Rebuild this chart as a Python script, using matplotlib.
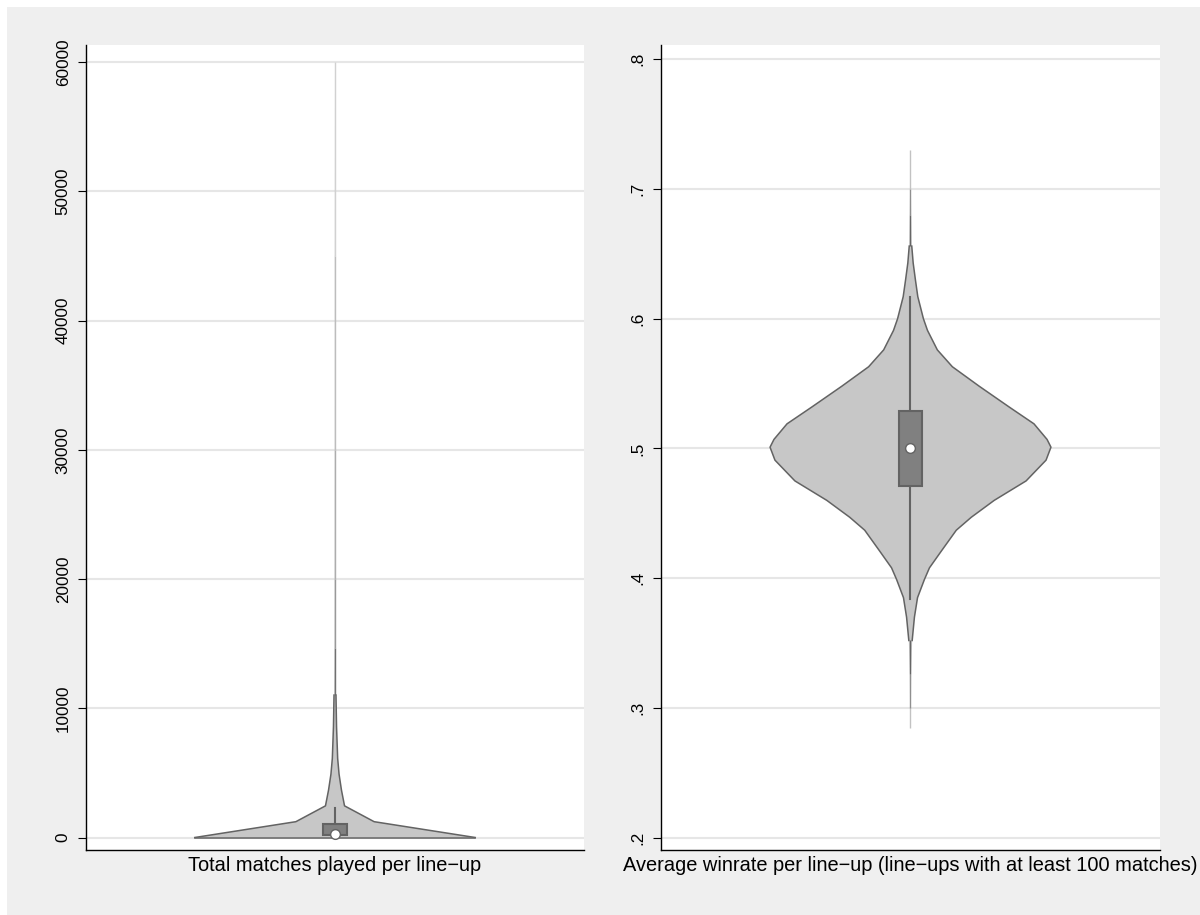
import matplotlib
matplotlib.use('Agg')
import matplotlib.pyplot as plt
from matplotlib.patches import Rectangle
from matplotlib.collections import LineCollection

plt.rcParams['font.family'] = ['Liberation Sans', 'DejaVu Sans']

# left panel: total matches per line-up (density outline, relative to max)
matches_y = [0, 1224, 2449, 3673, 4898, 6122, 8571, 11020, 14694, 20000, 30000, 45000, 60000]
matches_dens = [1.0, 0.279, 0.068, 0.046, 0.029, 0.019, 0.011, 0.007, 0.004, 0.003, 0.002, 0.0015, 0.0]
matches_box = {'lo': 100, 'q1': 190, 'med': 300, 'q3': 1020, 'hi': 2260}
matches_ticks = [0, 10000, 20000, 30000, 40000, 50000, 60000]
matches_ticklabels = ['0', '10000', '20000', '30000', '40000', '50000', '60000']
matches_label = 'Total matches played per line\u2212up'

# right panel: average winrate per line-up
winrate_y = [0.2846, 0.300, 0.326, 0.352, 0.370, 0.385, 0.399, 0.408, 0.421, 0.437, 0.447,
             0.460, 0.475, 0.491, 0.501, 0.507, 0.519, 0.532, 0.548, 0.563, 0.576, 0.591,
             0.600, 0.617, 0.630, 0.643, 0.656, 0.680, 0.700, 0.730]
winrate_dens = [0.0, 0.003, 0.005, 0.012, 0.028, 0.050, 0.099, 0.135, 0.220, 0.326, 0.433,
                0.596, 0.823, 0.965, 1.0, 0.972, 0.879, 0.702, 0.489, 0.298, 0.191, 0.121,
                0.092, 0.052, 0.035, 0.019, 0.009, 0.005, 0.003, 0.0]
winrate_box = {'lo': 0.384, 'q1': 0.4714, 'med': 0.500, 'q3': 0.529, 'hi': 0.617}
winrate_ticks = [0.2, 0.3, 0.4, 0.5, 0.6, 0.7, 0.8]
winrate_ticklabels = ['.2', '.3', '.4', '.5', '.6', '.7', '.8']
winrate_label = 'Average winrate per line\u2212up (line\u2212ups with at least 100 matches)'

BG = '#efefef'
GRID = '#e6e6e6'
FILL = '#c7c7c7'
EDGE = '#636363'
BOXC = '#808080'
MAXW = 0.563
BOXW = 0.096
TAIL = 0.006   # below this relative width the outline is only a hairline


def violin(ax, y, dens, box, ticks, ticklabels, label, ylim):
    w = [d * MAXW for d in dens]
    ax.fill_betweenx(y, [-v for v in w], w, facecolor=FILL, edgecolor='none', zorder=2)

    body = [i for i, d in enumerate(dens) if d >= TAIL]
    i0, i1 = body[0], body[-1]
    by = y[i0:i1 + 1]
    bw = w[i0:i1 + 1]
    ax.plot([-v for v in bw], by, color=EDGE, lw=1.1, zorder=2.5)
    ax.plot(bw, by, color=EDGE, lw=1.1, zorder=2.5)
    if dens[0] > 0:
        ax.plot([-w[0], w[0]], [y[0], y[0]], color=EDGE, lw=1.1, zorder=2.5)

    # thin tails: a hairline that fades as the density goes to zero
    segs, cols = [], []
    for a, b in [(0, i0), (i1, len(y) - 1)]:
        for k in range(a, b):
            segs.append([(0, y[k]), (0, y[k + 1])])
            d = (dens[k] + dens[k + 1]) / 2
            g = 0.88 - 0.48 * min(d / TAIL, 1)
            cols.append((g, g, g))
    ax.add_collection(LineCollection(segs, colors=cols, lw=1.0, zorder=2))

    ax.plot([0, 0], [box['lo'], box['q1']], color=EDGE, lw=1.5, zorder=3)
    ax.plot([0, 0], [box['q3'], box['hi']], color=EDGE, lw=1.5, zorder=3)
    ax.add_patch(Rectangle((-BOXW / 2, box['q1']), BOXW, box['q3'] - box['q1'],
                           facecolor=BOXC, edgecolor=EDGE, lw=1.5, zorder=4))
    ax.plot(0, box['med'], 'o', mfc='white', mec=EDGE, ms=7, mew=1, zorder=5)

    ax.set_xlim(-1, 1)
    ax.set_ylim(*ylim)
    ax.set_xticks([])
    ax.set_yticks(ticks)
    ax.set_yticklabels(ticklabels, rotation=90, va='center',
                       family=['Liberation Sans Narrow', 'Liberation Sans'], fontsize=12.3)
    ax.tick_params(axis='y', length=6, width=0.8, pad=5, colors='black')
    ax.grid(axis='y', color=GRID, lw=1.5, zorder=0)
    ax.set_axisbelow(True)
    for s in ['top', 'right']:
        ax.spines[s].set_visible(False)
    for s in ['left', 'bottom']:
        ax.spines[s].set_color('black')
        ax.spines[s].set_linewidth(1)
    ax.set_xlabel(label, fontsize=14.4, labelpad=4.5)


fig = plt.figure(figsize=(12, 9.15), dpi=100)
fig.patch.set_facecolor('white')
# grey graph region, with the thin white strip left and top seen in the reference
fig.add_artist(Rectangle((7 / 1200, 0), 1 - 7 / 1200, 1 - 7 / 915, transform=fig.transFigure,
                         facecolor=BG, edgecolor='none', zorder=-10))

ax1 = fig.add_axes([86 / 1200, 1 - 850 / 915, 498 / 1200, 805 / 915])
ax2 = fig.add_axes([661 / 1200, 1 - 850 / 915, 499 / 1200, 805 / 915])

violin(ax1, matches_y, matches_dens, matches_box, matches_ticks, matches_ticklabels,
       matches_label, (-967, 61316))
violin(ax2, winrate_y, winrate_dens, winrate_box, winrate_ticks, winrate_ticklabels,
       winrate_label, (0.1905, 0.811))

fig.savefig('out.png', dpi=100, facecolor=fig.get_facecolor())
